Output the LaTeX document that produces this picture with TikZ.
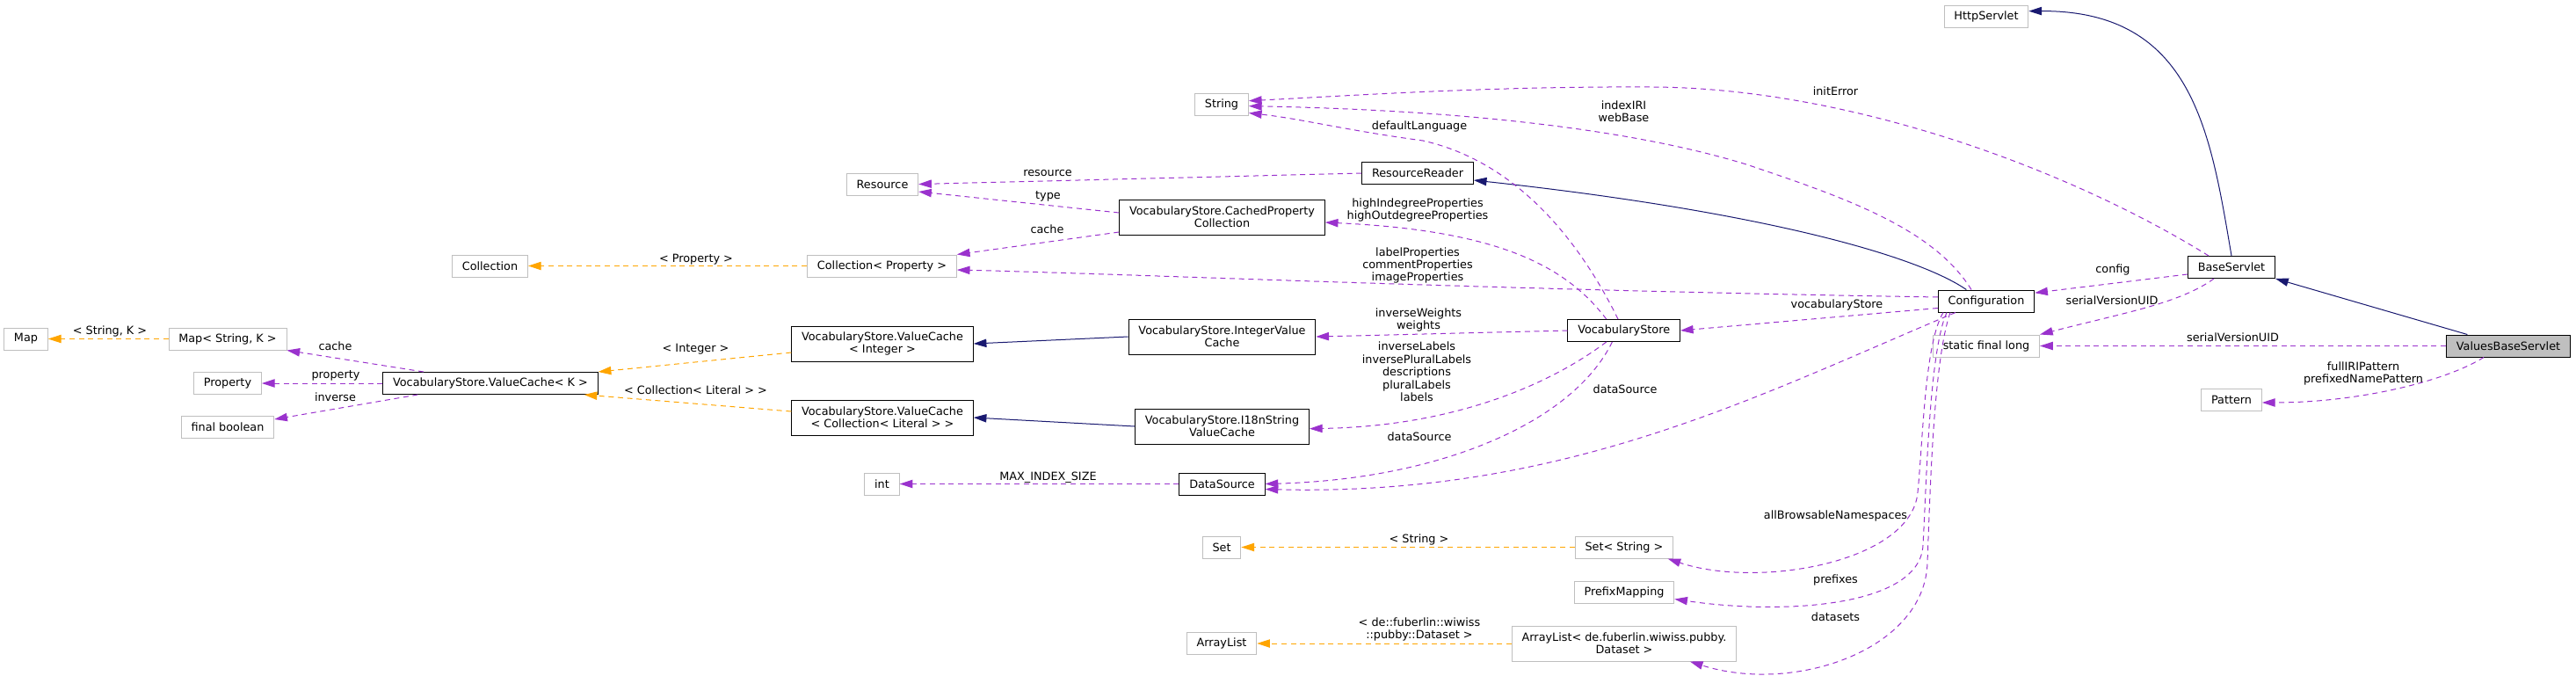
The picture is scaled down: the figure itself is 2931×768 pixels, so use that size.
\documentclass[tikz,border=0pt]{standalone}
\usepackage{fontspec}
\setmainfont{DejaVu Sans}
\usepackage{tikz}
\usetikzlibrary{arrows.meta}
\definecolor{navyedge}{HTML}{191970}
\definecolor{useedge}{HTML}{9A32CD}
\definecolor{tmpledge}{HTML}{FFA500}
\definecolor{extgrey}{HTML}{BFBFBF}
\tikzstyle{cls} = [rectangle, draw=black, fill=white, line width=0.75pt,
    minimum height=18.75pt, inner xsep=8.5pt, inner ysep=2pt, align=center,
    font=\fontsize{9.6}{10.8}\selectfont]
\tikzstyle{extcls} = [cls, draw=extgrey]
\tikzstyle{curcls} = [cls, fill=extgrey]
\tikzstyle{tall} = [minimum height=30pt]
\tikzstyle{elabel} = [inner sep=0pt, align=center, font=\fontsize{9.6}{10.8}\selectfont]
\tikzstyle{inherit} = [line width=0.75pt, ->, >={Triangle[length=11pt,width=7pt]}, draw=navyedge]
\tikzstyle{uses} = [line width=0.75pt, ->, >={Triangle[length=11pt,width=7pt]}, draw=useedge,
    dash pattern=on 4.5pt off 3.5pt]
\tikzstyle{templ} = [uses, draw=tmpledge]

\begin{document}
\begin{tikzpicture}[x=0.75pt, y=-0.75pt]
    \useasboundingbox (0,0) rectangle (2931,768);
    % Classes
    \node[extcls] (map) at (29.5,385.5) {Map};
    \node[extcls] (mapsk) at (259,385.5) {Map< String, K >};
    \node[extcls] (property) at (259,436) {Property};
    \node[extcls] (finalbool) at (259,486) {final boolean};
    \node[extcls] (collection) at (557.5,302.5) {Collection};
    \node[cls] (vck) at (558,436) {VocabularyStore.ValueCache< K >};
    \node[extcls] (resource) at (1004,209.5) {Resource};
    \node[extcls] (collprop) at (1003.5,302.5) {Collection< Property >};
    \node[cls, tall] (vcint) at (1004,391) {VocabularyStore.ValueCache\\< Integer >};
    \node[cls, tall] (vccoll) at (1004,475) {VocabularyStore.ValueCache\\< Collection< Literal > >};
    \node[extcls] (int) at (1003.5,550.5) {int};
    \node[extcls] (string) at (1390,118.5) {String};
    \node[cls, tall] (cpc) at (1390.5,247) {VocabularyStore.CachedProperty\\Collection};
    \node[cls, tall] (ivc) at (1390.5,383) {VocabularyStore.IntegerValue\\Cache};
    \node[cls, tall] (i18n) at (1390.5,485) {VocabularyStore.I18nString\\ValueCache};
    \node[cls] (datasource) at (1390.5,550.5) {DataSource};
    \node[extcls] (set) at (1390,622.5) {Set};
    \node[extcls] (arraylist) at (1390,732) {ArrayList};
    \node[cls] (resreader) at (1613,197) {ResourceReader};
    \node[cls] (vocab) at (1847.7,376) {VocabularyStore};
    \node[extcls] (setstring) at (1848,622.5) {Set< String >};
    \node[extcls] (prefixmap) at (1848,673.5) {PrefixMapping};
    \node[extcls, tall] (arraylistds) at (1848,732) {ArrayList< de.fuberlin.wiwiss.pubby.\\Dataset >};
    \node[extcls] (httpservlet) at (2260,18.5) {HttpServlet};
    \node[cls] (configuration) at (2260,342.5) {Configuration};
    \node[extcls] (sfl) at (2260,393.5) {static final long};
    \node[cls] (baseservlet) at (2539,304) {BaseServlet};
    \node[extcls] (pattern) at (2539,454.5) {Pattern};
    \node[curcls] (vbs) at (2854,393.5) {ValuesBaseServlet};
    % Inheritance
    \draw[inherit] (ivc.west) -- (vcint.east);
    \draw[inherit] (i18n.west) -- (vccoll.east);
    \draw[inherit] ([xshift=-17pt]configuration.north) .. controls (2180,290) and (2000,240) .. ([yshift=-6pt]resreader.east);
    \draw[inherit] (baseservlet.north) .. controls (2515,150) and (2495,12) .. ([yshift=4.4pt]httpservlet.east);
    \draw[inherit] ([xshift=-35pt]vbs.north) -- (baseservlet.south east);
    % Templates
    \draw[templ] (mapsk.west) -- (map.east);
    \draw[templ] (collprop.west) -- (collection.east);
    \draw[templ] ([yshift=-7.5pt]vcint.west) -- (vck.north east);
    \draw[templ] ([yshift=5.25pt]vccoll.west) -- ([xshift=-12pt]vck.south east);
    \draw[templ] (setstring.west) -- (set.east);
    \draw[templ] (arraylistds.west) -- (arraylist.east);
    % Members
    \draw[uses] ([xshift=-57pt]vck.north) -- (mapsk.south east);
    \draw[uses] (vck.west) -- (property.east);
    \draw[uses] ([xshift=-62pt]vck.south) -- ([yshift=6.75pt]finalbool.east);
    \draw[uses] (resreader.west) -- (resource.east);
    \draw[uses] ([yshift=3.75pt]cpc.west) -- ([yshift=-6.4pt]resource.east);
    \draw[uses] ([yshift=-12.75pt]cpc.west) -- (collprop.north east);
    \draw[uses] ([yshift=3.4pt]configuration.west) .. controls (1700,330) and (1300,312) .. ([yshift=-3.4pt]collprop.east);
    \draw[uses] ([xshift=-15pt]vocab.north) .. controls (1780,300) and (1700,262) .. ([yshift=-4.5pt]cpc.east);
    \draw[uses] ([xshift=-5pt]vocab.north) .. controls (1800,280) and (1730,185) .. (1619,160)
        .. controls (1530,148) and (1480,135) .. (string.-18);
    \draw[uses] ([xshift=-12.75pt]configuration.north) .. controls (2200,260) and (2100,225) .. (1987,187)
        .. controls (1850,145) and (1650,125) .. (string.-4);
    \draw[uses] ([xshift=-19.5pt]baseservlet.north) .. controls (2350,190) and (2100,100) .. (1880,99)
        .. controls (1700,98) and (1550,108) .. (string.7);
    \draw[uses] ([yshift=-6pt]configuration.west) -- (vocab.east);
    \draw[uses] (vocab.west) -- (ivc.east);
    \draw[uses] ([xshift=-15pt]vocab.south) .. controls (1760,440) and (1650,485) .. ([yshift=-2pt]i18n.east);
    \draw[uses] ([xshift=-10pt]vocab.south) .. controls (1790,480) and (1640,545) .. (datasource.east);
    \draw[uses] ([xshift=-26.25pt]configuration.south) .. controls (2000,450) and (1780,565) .. ([yshift=-4.5pt]datasource.east);
    \draw[uses] (datasource.west) -- (int.east);
    \draw[uses] ([yshift=-6pt]baseservlet.west) -- ([yshift=7pt]configuration.east);
    \draw[uses] ([xshift=-15pt]baseservlet.south) .. controls (2480,345) and (2420,355) .. (sfl.north east);
    \draw[uses] (vbs.west) -- (sfl.east);
    \draw[uses] ([xshift=-21pt]vbs.south) .. controls (2780,435) and (2680,458) .. ([yshift=-2.6pt]pattern.east);
    \draw[uses] ([xshift=-36.75pt]configuration.south) .. controls (2190,390) and (2188,500) .. (2182,560)
        .. controls (2175,640) and (2000,670) .. ([xshift=-5pt]setstring.south east);
    \draw[uses] ([xshift=-33.75pt]configuration.south) .. controls (2195,400) and (2192,550) .. (2188,620)
        .. controls (2185,690) and (2030,700) .. ([yshift=-6pt]prefixmap.east);
    \draw[uses] ([xshift=-30.75pt]configuration.south) .. controls (2200,410) and (2196,560) .. (2193,640)
        .. controls (2190,740) and (2040,790) .. ([xshift=-40pt]arraylistds.south east);
    % Labels
    \node[elabel] (l-stringk) at (125,377) {< String, K >};
    \node[elabel] (l-cache) at (381.5,394) {cache};
    \node[elabel] (l-property) at (382,427) {property};
    \node[elabel] (l-inverse) at (381.5,452) {inverse};
    \node[elabel] (l-collprop) at (792,295) {< Property >};
    \node[elabel] (l-integer) at (791.5,397) {< Integer >};
    \node[elabel] (l-literal) at (791.5,444) {< Collection< Literal > >};
    \node[elabel] (l-resource) at (1192,197) {resource};
    \node[elabel] (l-type) at (1192.5,223) {type};
    \node[elabel] (l-ccache) at (1191.5,261) {cache};
    \node[elabel] (l-maxindex) at (1192.5,543) {MAX\_INDEX\_SIZE};
    \node[elabel] (l-string) at (1614.5,614) {< String >};
    \node[elabel] (l-dataset) at (1615,716) {< de::fuberlin::wiwiss\\::pubby::Dataset >};
    \node[elabel] (l-deflang) at (1615,144) {defaultLanguage};
    \node[elabel] (l-highprop) at (1613,239) {highIndegreeProperties\\highOutdegreeProperties};
    \node[elabel] (l-labelprop) at (1613,302) {labelProperties\\commentProperties\\imageProperties};
    \node[elabel] (l-weights) at (1614,364) {inverseWeights\\weights};
    \node[elabel] (l-labels) at (1612,423) {inverseLabels\\inversePluralLabels\\descriptions\\pluralLabels\\labels};
    \node[elabel] (l-vsource) at (1615,497) {dataSource};
    \node[elabel] (l-indexiri) at (1847.5,127) {indexIRI\\webBase};
    \node[elabel] (l-csource) at (1849,443) {dataSource};
    \node[elabel] (l-initerror) at (2088.5,104) {initError};
    \node[elabel] (l-vocab) at (2090,347) {vocabularyStore};
    \node[elabel] (l-browse) at (2088.5,587) {allBrowsableNamespaces};
    \node[elabel] (l-prefixes) at (2088.5,660) {prefixes};
    \node[elabel] (l-datasets) at (2088.5,702) {datasets};
    \node[elabel] (l-config) at (2404,307) {config};
    \node[elabel] (l-serial) at (2403,342) {serialVersionUID};
    \node[elabel] (l-vserial) at (2540.5,384) {serialVersionUID};
    \node[elabel] (l-pattern) at (2689,425) {fullIRIPattern\\prefixedNamePattern};
\end{tikzpicture}
\end{document}
